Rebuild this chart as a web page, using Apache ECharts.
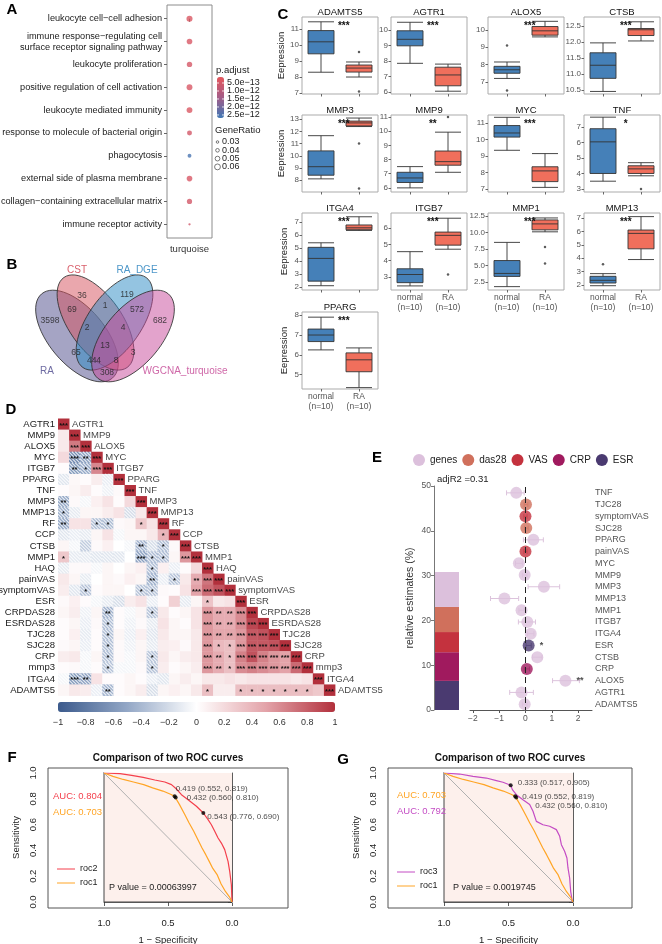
<!DOCTYPE html>
<html>
<head>
<meta charset="utf-8">
<title>RA multi-panel figure</title>
<script src="https://cdn.jsdelivr.net/npm/echarts@6/dist/echarts.min.js"></script>
<style>
  html, body { margin: 0; padding: 0; background: #fff; }
  #chart { width: 662px; height: 944px; }
</style>
</head>
<body>
<div id="chart"></div>
<script>
// ---------- A: GO enrichment ----------
const goTerms = ['leukocyte cell\u2212cell adhesion', 'immune response\u2212regulating cell\nsurface receptor signaling pathway',
  'leukocyte proliferation', 'positive regulation of cell activation', 'leukocyte mediated immunity',
  'response to molecule of bacterial origin', 'phagocytosis', 'external side of plasma membrane',
  'collagen\u2212containing extracellular matrix', 'immune receptor activity'];
const goPadj = [3.5e-13, 4e-13, 4.5e-13, 4e-13, 3.5e-13, 5e-13, 2.55e-12, 4e-13, 5e-13, 5.5e-13];
const goRatio = [0.062, 0.058, 0.056, 0.060, 0.060, 0.052, 0.042, 0.058, 0.054, 0.028];
const padjTicks = [5e-13, 1e-12, 1.5e-12, 2e-12, 2.5e-12];
const padjTickLabels = ['5.0e\u221213', '1.0e\u221212', '1.5e\u221212', '2.0e\u221212', '2.5e\u221212'];
const ratioTicks = [0.03, 0.04, 0.05, 0.06];

// ---------- B: Venn ----------
const vennSets = ['RA', 'CST', 'RA_DGE', 'WGCNA_turquoise'];
const vennCounts = [3598, 36, 119, 682, 69, 1, 572, 2, 4, 13, 65, 444, 8, 3, 308];

// ---------- C: boxplots ----------
const boxGenes = ['ADAMTS5', 'AGTR1', 'ALOX5', 'CTSB', 'MMP3', 'MMP9', 'MYC', 'TNF', 'ITGA4', 'ITGB7', 'MMP1', 'MMP13', 'PPARG'];
const groups = ['normal', 'RA'];
const normalStats = [
  [8.3, 9.45, 10.2, 10.9, 11.45], [7.85, 8.98, 9.4, 9.95, 10.5], [7.2, 7.5, 7.7, 7.9, 8.15],
  [10.45, 10.86, 11.27, 11.66, 11.97], [8.1, 8.4, 9.1, 10.4, 11.65], [6.0, 6.38, 6.7, 7.1, 7.5],
  [9.35, 10.15, 10.4, 10.85, 11.35], [3.5, 4.0, 6.05, 6.9, 7.65], [2.1, 2.45, 4.2, 5.05, 5.4],
  [2.45, 2.65, 3.15, 3.5, 4.55], [1.8, 3.35, 3.8, 5.75, 8.5], [1.95, 2.15, 2.35, 2.65, 2.85],
  [6.25, 6.67, 7.0, 7.3, 7.9]];
const raStats = [
  [8.0, 8.31, 8.56, 8.75, 8.94], [6.05, 6.4, 7.1, 7.6, 7.8], [9.6, 9.7, 9.95, 10.2, 10.5],
  [12.03, 12.2, 12.38, 12.42, 12.63], [12.4, 12.45, 12.7, 12.85, 13.1], [7.1, 7.6, 7.85, 8.6, 9.93],
  [7.1, 7.45, 8.1, 8.35, 9.15], [3.85, 4.0, 4.3, 4.5, 4.7], [6.35, 6.4, 6.55, 6.77, 7.4],
  [4.7, 4.95, 5.55, 5.75, 6.6], [10.1, 10.4, 11.3, 11.9, 12.2], [3.9, 4.7, 5.85, 6.1, 7.1],
  [4.35, 5.15, 5.75, 6.1, 6.35]];
const normalOutliers = [[], [], [9.1, 6.5], [], [], [], [], [], [], [], [], [3.55], []];
const raOutliers = [[9.56, 7.1], [], [], [], [11.0, 7.3], [11.0], [], [3.0], [], [3.15], [7.8, 5.3], [], []];
const boxSig = ['***', '***', '***', '***', '***', '**', '***', '*', '***', '***', '***', '***', '***'];
const boxYRange = [[6.94, 11.75], [5.87, 10.84], [6.3, 10.75], [10.37, 12.78], [7.02, 13.35], [5.71, 11.14],
  [6.82, 11.49], [2.8, 7.79], [1.77, 7.69], [2.2, 6.92], [1.29, 12.95], [1.63, 7.37], [4.28, 8.16]];
const boxYStep = [1, 1, 1, 0.5, 1, 1, 1, 1, 1, 1, 2.5, 1, 1];

// ---------- D: correlation matrix (lower triangle) ----------
const corrVars = ['AGTR1', 'MMP9', 'ALOX5', 'MYC', 'ITGB7', 'PPARG', 'TNF', 'MMP3', 'MMP13', 'RF', 'CCP', 'CTSB', 'MMP1',
  'HAQ', 'painVAS', 'symptomVAS', 'ESR', 'CRPDAS28', 'ESRDAS28', 'TJC28', 'SJC28', 'CRP', 'mmp3', 'ITGA4', 'ADAMTS5'];
const corrRows = [
  [1],
  [0.12, 1],
  [0.12, 0.68, 1],
  [0.2, -0.7, -0.55, 1],
  [0.02, -0.6, -0.5, 0.62, 1],
  [-0.15, 0.04, 0.02, 0.1, -0.1, 1],
  [0.02, 0.05, 0.1, 0.02, -0.08, 0.03, 1],
  [-0.5, 0.03, -0.05, 0.08, 0.15, 0.02, 0.2, 1],
  [-0.45, -0.12, 0.05, 0.05, 0.1, 0.15, -0.2, 0.12, 1],
  [-0.5, 0.15, 0.15, -0.38, -0.4, 0.03, 0.05, 0.3, 0.15, 1],
  [-0.15, -0.1, -0.12, 0.05, 0.15, -0.05, 0.05, 0.05, 0.12, 0.4, 1],
  [0.05, -0.05, -0.3, 0.03, 0.08, 0.0, -0.05, -0.45, -0.2, -0.38, 0.03, 1],
  [0.3, -0.12, -0.12, -0.15, -0.15, -0.15, 0.0, -0.55, -0.38, -0.38, 0.05, 0.55, 1],
  [-0.12, 0.03, 0.03, -0.05, 0.05, 0.0, 0.05, 0.08, -0.38, 0.08, -0.1, 0.02, 0.2, 1],
  [0.12, 0.05, -0.12, 0.0, 0.05, 0.03, 0.08, 0.05, -0.45, -0.1, -0.35, 0.12, 0.45, 0.7, 1],
  [0.1, -0.15, -0.35, 0.02, 0.05, 0.05, 0.0, -0.35, -0.35, 0.03, 0.02, 0.15, 0.5, 0.75, 0.85, 1],
  [0.03, 0.08, 0.02, -0.05, -0.12, -0.2, 0.1, 0.15, -0.1, 0.02, 0.25, -0.12, 0.05, 0.32, 0.12, 0.15, 1],
  [0.05, 0.1, -0.08, 0.05, -0.45, 0.02, -0.05, 0.05, -0.35, 0.12, 0.02, 0.05, 0.15, 0.55, 0.45, 0.45, 0.6, 1],
  [0.02, 0.05, -0.1, 0.03, -0.38, 0.02, -0.08, 0.03, -0.12, 0.15, 0.05, 0.02, 0.15, 0.55, 0.45, 0.45, 0.6, 0.9, 1],
  [0.02, 0.08, -0.12, 0.02, -0.38, 0.05, -0.1, 0.08, -0.15, 0.12, 0.05, 0.05, 0.12, 0.55, 0.48, 0.48, 0.55, 0.82, 0.85, 1],
  [0.03, 0.05, -0.1, 0.02, -0.38, 0.03, -0.08, 0.05, -0.12, 0.1, 0.08, 0.03, 0.12, 0.55, 0.38, 0.35, 0.55, 0.82, 0.82, 0.85, 1],
  [0.1, 0.12, -0.05, 0.05, -0.38, 0.03, -0.05, 0.05, -0.35, 0.12, 0.05, 0.1, 0.12, 0.55, 0.45, 0.35, 0.65, 0.85, 0.65, 0.55, 0.5, 1],
  [0.02, 0.03, -0.05, 0.02, -0.35, -0.05, -0.05, 0.03, -0.35, 0.1, 0.02, 0.05, 0.1, 0.55, 0.45, 0.35, 0.6, 0.65, 0.6, 0.55, 0.5, 0.75, 1],
  [-0.05, -0.6, -0.55, 0.15, 0.02, 0.02, 0.05, 0.02, -0.1, -0.15, 0.05, 0.1, 0.05, 0.12, 0.12, 0.15, 0.12, 0.15, 0.15, 0.15, 0.15, 0.12, 0.15, 1],
  [0.05, 0.12, 0.1, -0.1, -0.45, 0.02, 0.05, 0.1, -0.2, 0.05, 0.08, 0.05, 0.12, 0.35, 0.1, 0.1, 0.35, 0.35, 0.35, 0.35, 0.35, 0.35, 0.35, 0.3, 1]];
// [row, col, stars]
const corrSig = [
  [2, 1, '***'], [3, 1, '***'], [3, 2, '**'], [4, 1, '**'], [4, 2, '*'], [4, 3, '***'],
  [7, 0, '**'], [8, 0, '*'], [9, 0, '**'], [9, 3, '*'], [9, 4, '*'], [9, 7, '*'],
  [10, 9, '*'], [11, 7, '**'], [11, 9, '*'], [12, 0, '*'], [12, 7, '***'], [12, 8, '*'], [12, 9, '*'], [12, 11, '***'],
  [13, 8, '*'], [14, 8, '**'], [14, 10, '*'], [14, 12, '**'], [14, 13, '***'],
  [15, 2, '*'], [15, 7, '*'], [15, 8, '*'], [15, 12, '***'], [15, 13, '***'], [15, 14, '***'],
  [16, 13, '*'],
  [17, 4, '**'], [17, 8, '*'], [17, 13, '***'], [17, 14, '**'], [17, 15, '**'], [17, 16, '***'],
  [18, 4, '*'], [18, 13, '***'], [18, 14, '**'], [18, 15, '**'], [18, 16, '***'], [18, 17, '***'],
  [19, 4, '*'], [19, 13, '***'], [19, 14, '**'], [19, 15, '**'], [19, 16, '***'], [19, 17, '***'], [19, 18, '***'],
  [20, 4, '*'], [20, 13, '***'], [20, 14, '*'], [20, 15, '*'], [20, 16, '***'], [20, 17, '***'], [20, 18, '***'], [20, 19, '***'],
  [21, 4, '*'], [21, 8, '*'], [21, 13, '***'], [21, 14, '**'], [21, 15, '*'], [21, 16, '***'], [21, 17, '***'], [21, 18, '***'], [21, 19, '***'], [21, 20, '***'],
  [22, 4, '*'], [22, 8, '*'], [22, 13, '***'], [22, 14, '**'], [22, 15, '*'], [22, 16, '***'], [22, 17, '***'], [22, 18, '***'], [22, 19, '***'], [22, 20, '***'], [22, 21, '***'],
  [23, 1, '***'], [23, 2, '**'],
  [24, 4, '**'], [24, 13, '*'], [24, 16, '*'], [24, 17, '*'], [24, 18, '*'], [24, 19, '*'], [24, 20, '*'], [24, 21, '*'], [24, 22, '*']];
const corrTicks = [-1, -0.8, -0.6, -0.4, -0.2, 0, 0.2, 0.4, 0.6, 0.8, 1];

// ---------- E: relative estimates ----------
const estLegend = ['genes', 'das28', 'VAS', 'CRP', 'ESR'];
const estStackNames = ['ESR', 'CRP', 'VAS', 'das28', 'genes'];
const estShare = [6.5, 6.4, 4.5, 5.6, 7.8];
const adjR2 = 0.31;
const forestLabels = ['TNF', 'TJC28', 'symptomVAS', 'SJC28', 'PPARG', 'painVAS', 'MYC', 'MMP9', 'MMP3', 'MMP13',
  'MMP1', 'ITGB7', 'ITGA4', 'ESR', 'CTSB', 'CRP', 'ALOX5', 'AGTR1', 'ADAMTS5'];
const forestGroup = ['genes', 'das28', 'VAS', 'das28', 'genes', 'VAS', 'genes', 'genes', 'genes', 'genes',
  'genes', 'genes', 'genes', 'ESR', 'genes', 'CRP', 'genes', 'genes', 'genes'];
const forestEst = [-0.35, 0.02, 0.0, 0.03, 0.3, 0.0, -0.25, -0.03, 0.7, -0.8, -0.15, 0.07, 0.2, 0.12, 0.45, 0.05, 1.52, -0.15, -0.03];
const forestLo = [-0.72, -0.05, -0.06, -0.04, -0.08, -0.06, -0.38, -0.12, 0.1, -1.33, -0.25, -0.27, 0.08, 0.02, 0.27, -0.05, 1.03, -0.6, -0.12];
const forestHi = [-0.05, 0.09, 0.06, 0.1, 0.68, 0.06, -0.12, 0.06, 1.3, -0.26, -0.05, 0.38, 0.32, 0.22, 0.63, 0.15, 2.05, 0.3, 0.06];
const forestSig = ['', '', '', '', '', '', '', '', '', '', '', '', '', '*', '', '', '**', '', ''];

// ---------- F / G: ROC curves (x = 1 - specificity, drawn reversed) ----------
const roc1X = [1, 0.93, 0.85, 0.77, 0.69, 0.62, 0.54, 0.48, 0.448, 0.44, 0.41, 0.37, 0.335, 0.30, 0.27, 0.235, 0.205, 0.178, 0.15, 0.115, 0.085, 0.05, 0.02, 0];
const roc1Y = [1, 0.974, 0.95, 0.93, 0.91, 0.885, 0.86, 0.835, 0.819, 0.81, 0.755, 0.68, 0.612, 0.55, 0.49, 0.42, 0.367, 0.315, 0.26, 0.21, 0.14, 0.08, 0.04, 0];
const roc2X = [1, 0.875, 0.784, 0.694, 0.603, 0.525, 0.473, 0.434, 0.395, 0.343, 0.278, 0.224, 0.187, 0.161, 0.135, 0.109, 0.083, 0.057, 0.031, 0.018, 0.005, 0];
const roc2Y = [1, 0.995, 0.982, 0.966, 0.946, 0.930, 0.910, 0.876, 0.832, 0.793, 0.742, 0.690, 0.638, 0.599, 0.548, 0.496, 0.457, 0.406, 0.315, 0.238, 0.134, 0];
const roc3X = [1, 0.879, 0.775, 0.672, 0.594, 0.543, 0.483, 0.470, 0.439, 0.388, 0.336, 0.310, 0.284, 0.233, 0.181, 0.129, 0.103, 0.090, 0.065, 0.047, 0.039, 0.026, 0.018, 0.005];
const roc3Y = [1, 0.992, 0.974, 0.961, 0.941, 0.928, 0.905, 0.871, 0.832, 0.793, 0.755, 0.703, 0.625, 0.599, 0.587, 0.561, 0.509, 0.444, 0.393, 0.341, 0.264, 0.186, 0.083, 0];
const thrF = [{t: 0.419, sp: 0.552, se: 0.819}, {t: 0.432, sp: 0.560, se: 0.810}, {t: 0.543, sp: 0.776, se: 0.690}];
const thrG = [{t: 0.333, sp: 0.517, se: 0.905}, {t: 0.419, sp: 0.552, se: 0.819}, {t: 0.432, sp: 0.560, se: 0.810}];
const aucF = [['AUC: 0.804', 'roc2'], ['AUC: 0.703', 'roc1']];
const aucG = [['AUC: 0.703', 'roc1'], ['AUC: 0.792', 'roc3']];

// ================= drawing =================
const chart = echarts.init(document.getElementById('chart'));
const FONT = '"Liberation Sans", Arial, Helvetica, sans-serif';
const grids = [], xAxes = [], yAxes = [], series = [], graphics = [], visualMaps = [];

function addGrid(g, xa, ya) {
  g.outerBoundsMode = 'none';
  grids.push(g);
  const gi = grids.length - 1;
  xa.gridIndex = gi; ya.gridIndex = gi;
  xAxes.push(xa); yAxes.push(ya);
  return { xi: xAxes.length - 1, yi: yAxes.length - 1 };
}
function font(size, weight) { return (weight || 'normal') + ' ' + size + 'px ' + FONT; }
function txt(x, y, text, o) {
  o = o || {};
  graphics.push({ type: 'text', x: x, y: y, rotation: o.rot || 0, silent: true, z: 50,
    style: { text: text, fill: o.color || '#222', font: font(o.size || 9, o.weight),
      align: o.align || 'left', textAlign: o.align || 'left', verticalAlign: 'middle', textVerticalAlign: 'middle' } });
}
function gline(x1, y1, x2, y2, color, w) {
  graphics.push({ type: 'line', silent: true, z: 50, shape: { x1, y1, x2, y2 }, style: { stroke: color, lineWidth: w || 1 } });
}

// panel letters
[['A', 12, 10], ['B', 12, 265], ['C', 283, 15], ['D', 11, 410], ['E', 377, 458], ['F', 12, 758], ['G', 343, 760]]
  .forEach(p => txt(p[1], p[2], p[0], { size: 15, weight: 'bold', align: 'center', color: '#000' }));

// ---- A ----
const padjMin = 1.25e-13, padjMax = 2.69e-12;
const ratioSize = r => 2 + (r - 0.025) * 110;
const termIdx = goTerms.map((_, i) => i);
const axA = addGrid({ left: 167, top: 5, width: 45, height: 233, show: true, borderColor: '#8c8c8c', borderWidth: 1 },
  { type: 'value', min: 0.4, max: 1.6, axisLine: { show: false }, splitLine: { show: false },
    axisTick: { show: true, customValues: [1], length: 3, lineStyle: { color: '#666' } },
    axisLabel: { customValues: [1], formatter: () => 'turquoise', fontSize: 9.5, color: '#333', margin: 6 } },
  { type: 'value', min: -0.6, max: 9.6, inverse: true, axisLine: { show: false }, splitLine: { show: false },
    axisTick: { show: true, customValues: termIdx, length: 3, lineStyle: { color: '#666' } },
    axisLabel: { customValues: termIdx, formatter: v => goTerms[Math.round(v)], fontSize: 9.2, color: '#1a1a1a', margin: 5, lineHeight: 11, align: 'right' } });
const sA = series.length;
series.push({ type: 'scatter', xAxisIndex: axA.xi, yAxisIndex: axA.yi, silent: true,
  data: goTerms.map((t, i) => [1, i, goPadj[i], goRatio[i]]), symbolSize: d => ratioSize(d[3]) });
visualMaps.push({ type: 'continuous', seriesIndex: sA, dimension: 2, min: padjMin, max: padjMax, inverse: true,
  left: 217, top: 77, itemWidth: 7, itemHeight: 41, calculable: false, padding: 0,
  inRange: { color: ['#e6565b', '#a35d88', '#3f78b6'] } });
txt(216, 70, 'p.adjust', { size: 9.5 });
padjTicks.forEach((v, i) => {
  const y = 77 + (v - padjMin) / (padjMax - padjMin) * 41;
  txt(227, y, padjTickLabels[i], { size: 9 });
  gline(217, y, 219, y, '#fff', 0.8);
  gline(222, y, 224, y, '#fff', 0.8);
});
txt(215, 130, 'GeneRatio', { size: 9.5 });
ratioTicks.forEach((v, i) => {
  const y = 142 + i * 8.3;
  graphics.push({ type: 'circle', silent: true, z: 50, shape: { cx: 217.5, cy: y, r: ratioSize(v) / 2 }, style: { fill: '#fff', stroke: '#555', lineWidth: 0.8 } });
  txt(222, y, v.toFixed(2), { size: 9 });
});

// ---- B ----
const vennEllipses = [
  { cx: 77, cy: 336, rx: 55, ry: 28, rot: -50, color: 'rgba(75,74,138,0.5)' },
  { cx: 95.5, cy: 322.5, rx: 55, ry: 26.7, rot: -55, color: 'rgba(214,80,92,0.5)' },
  { cx: 114.5, cy: 322.5, rx: 55, ry: 26.7, rot: 55, color: 'rgba(42,138,196,0.5)' },
  { cx: 133, cy: 336, rx: 55, ry: 28, rot: 50, color: 'rgba(200,71,154,0.5)' }];
vennEllipses.forEach(e => graphics.push({ type: 'ellipse', silent: true, z: 0, x: e.cx, y: e.cy, rotation: e.rot * Math.PI / 180,
  shape: { cx: 0, cy: 0, rx: e.rx, ry: e.ry }, style: { fill: e.color, stroke: '#333', lineWidth: 0.8 } }));
const vennLabelPos = [[47, 371, '#6f6ca3'], [77, 270, '#d9606c'], [137, 270, '#4d97c9'], [185, 371, '#cf68a8']];
vennSets.forEach((s, i) => txt(vennLabelPos[i][0], vennLabelPos[i][1], s, { size: 10, align: 'center', color: vennLabelPos[i][2] }));
const vennCountPos = [[50, 321], [82, 296], [127, 295], [160, 321], [72, 310], [105, 306], [137, 310], [87, 328], [123, 328],
  [105, 346], [76, 353], [94, 361], [116, 361], [133, 353], [107, 373]];
const axB = addGrid({ left: 0, top: 258, width: 330, height: 140, show: false },
  { type: 'value', min: 0, max: 330, show: false }, { type: 'value', min: 258, max: 398, inverse: true, show: false });
series.push({ type: 'scatter', xAxisIndex: axB.xi, yAxisIndex: axB.yi, silent: true, symbolSize: 1, itemStyle: { color: 'rgba(0,0,0,0)' },
  data: vennCounts.map((n, i) => [vennCountPos[i][0], vennCountPos[i][1], n]),
  label: { show: true, position: 'inside', formatter: p => String(p.data[2]), fontSize: 8.5, color: '#222' } });

// ---- C ----
const NORMAL = '#4580b8', RA = '#f06f5c';
const colLeft = [302, 391, 488, 584], rowTop = [17, 115, 213, 312];
boxGenes.forEach((g, k) => {
  const r = Math.floor(k / 4), c = k % 4;
  const showX = k >= 9;
  const lo = boxYRange[k][0], hi = boxYRange[k][1], step = boxYStep[k];
  const ticks = [];
  for (let t = Math.ceil(lo / step - 1e-9) * step; t <= hi + 1e-9; t += step) ticks.push(+t.toFixed(2));
  const ax = addGrid({ left: colLeft[c], top: rowTop[r], width: 76, height: 77, show: true, borderColor: '#ababab', borderWidth: 1 },
    { type: 'category', data: groups, axisLine: { show: false },
      axisTick: { show: true, alignWithLabel: true, length: 2.5, lineStyle: { color: '#666' } },
      axisLabel: { show: showX, formatter: v => v + '\n(n=10)', fontSize: 8.5, color: '#555', lineHeight: 10, margin: 3 } },
    { type: 'value', min: lo, max: hi, axisLine: { show: false }, splitLine: { show: false },
      axisTick: { show: true, customValues: ticks, length: 2.5, lineStyle: { color: '#666' } },
      axisLabel: { customValues: ticks, fontSize: 8, color: '#555', margin: 3, formatter: v => (step % 1 !== 0 ? v.toFixed(1) : String(v)) },
      name: c === 0 ? 'Eepression' : '', nameLocation: 'middle', nameGap: 13, nameTextStyle: { fontSize: 9.5, color: '#222' } });
  series.push({ type: 'boxplot', xAxisIndex: ax.xi, yAxisIndex: ax.yi, silent: true, boxWidth: [26, 26],
    itemStyle: { borderColor: '#333', borderWidth: 0.9 },
    data: [{ value: normalStats[k], itemStyle: { color: NORMAL } }, { value: raStats[k], itemStyle: { color: RA } }] });
  const pts = normalOutliers[k].map(v => [0, v]).concat(raOutliers[k].map(v => [1, v]));
  series.push({ type: 'scatter', xAxisIndex: ax.xi, yAxisIndex: ax.yi, silent: true, symbolSize: 2.5, itemStyle: { color: '#333' }, data: pts });
  txt(colLeft[c] + 38, rowTop[r] - 5, g, { size: 9.5, align: 'center', color: '#111' });
  txt(colLeft[c] + 0.55 * 76, rowTop[r] + 9, boxSig[k], { size: 10, align: 'center', weight: 'bold', color: '#111' });
});

// ---- D ----
const corrData = [];
corrRows.forEach((row, i) => row.forEach((v, j) => corrData.push([j, i, v])));
const sigMap = {};
corrSig.forEach(s => { sigMap[s[0] + '_' + s[1]] = s[2]; });
corrVars.forEach((_, i) => { sigMap[i + '_' + i] = '***'; });
const axD = addGrid({ left: 58, top: 418.5, width: 277, height: 277, show: false },
  { type: 'category', data: corrVars, show: false },
  { type: 'category', data: corrVars, inverse: true, axisLine: { show: false }, axisTick: { show: false },
    axisLabel: { interval: 0, fontSize: 9.5, color: '#1a1a1a', margin: 3 } });
const sD = series.length;
series.push({ type: 'custom', xAxisIndex: axD.xi, yAxisIndex: axD.yi, silent: true, data: corrData, encode: { x: 0, y: 1 },
  renderItem: (params, api) => {
    const j = api.value(0), i = api.value(1), v = api.value(2);
    const c = api.coord([j, i]);
    const s = api.size([1, 1]);
    const w = s[0], h = s[1], x0 = c[0] - w / 2, y0 = c[1] - h / 2;
    const kids = [{ type: 'rect', shape: { x: x0, y: y0, width: w + 0.4, height: h + 0.4 }, style: { fill: api.visual('color') } }];
    if (v < 0) {
      for (let k = -w + 1.6; k < h; k += 3.3) {
        const xs = Math.max(0, -k), xe = Math.min(w, h - k);
        if (xe > xs) kids.push({ type: 'line', shape: { x1: x0 + xs, y1: y0 + xs + k, x2: x0 + xe, y2: y0 + xe + k },
          style: { stroke: 'rgba(255,255,255,0.8)', lineWidth: 1.1 } });
      }
    }
    const st = sigMap[i + '_' + j];
    if (st) kids.push({ type: 'text', style: { text: st, x: c[0], y: c[1] + 1.5, align: 'center', textAlign: 'center',
      verticalAlign: 'middle', textVerticalAlign: 'middle', font: font(7.5, 'bold'), fill: '#111' } });
    return { type: 'group', children: kids };
  } });
visualMaps.push({ type: 'continuous', seriesIndex: sD, dimension: 2, min: -1, max: 1, orient: 'horizontal',
  left: 58, top: 702, itemWidth: 10, itemHeight: 277, calculable: false, padding: 0,
  inRange: { color: ['#3b5a8c', '#93a7c6', '#ffffff', '#e3a3a9', '#b2303c'] } });
series.push({ type: 'scatter', xAxisIndex: axD.xi, yAxisIndex: axD.yi, silent: true, symbolSize: 1, itemStyle: { color: 'rgba(0,0,0,0)' },
  data: corrVars.map((_, i) => [i, i]),
  label: { show: true, position: 'right', distance: 8, formatter: p => corrVars[p.dataIndex], fontSize: 9.5, color: '#111' } });
corrTicks.forEach(v => {
  const lab = v === 0 ? '0' : (v < 0 ? '\u2212' : '') + String(Math.abs(v));
  txt(58 + (v + 1) / 2 * 277, 723, lab, { size: 9, align: 'center', color: '#333' });
});

// ---- E ----
const estColors = { genes: '#dcc0dc', das28: '#d0705c', VAS: '#c4323e', CRP: '#a01a5e', ESR: '#4a3a70' };
const errColors = { genes: '#dcc3dc', das28: '#e0a090', VAS: '#d98088', CRP: '#c97aa0', ESR: '#8c80a8' };
const axEB = addGrid({ left: 434, top: 486, width: 26, height: 224, show: false },
  { type: 'category', data: ['all'], show: false },
  { type: 'value', min: 0, max: 50, interval: 10, splitLine: { show: false },
    axisLine: { show: true, lineStyle: { color: '#777' } }, axisTick: { show: true, length: 3, lineStyle: { color: '#777' } },
    axisLabel: { fontSize: 8.5, color: '#555', margin: 3 },
    name: 'relative estimates (%)', nameLocation: 'middle', nameGap: 18, nameTextStyle: { fontSize: 10.5, color: '#333' } });
estStackNames.forEach((n, i) => series.push({ type: 'bar', name: n, stack: 'est', xAxisIndex: axEB.xi, yAxisIndex: axEB.yi,
  silent: true, barWidth: 24, data: [estShare[i]], itemStyle: { color: estColors[n] } }));
txt(437, 479, 'adjR2 =' + adjR2.toFixed(2), { size: 9.5 });

const fTicks = [-2, -1, 0, 1, 2];
const axEF = addGrid({ left: 470, top: 487, width: 122, height: 223, show: false },
  { type: 'value', min: -2.11, max: 2.53, splitLine: { show: false },
    axisLine: { show: true, lineStyle: { color: '#555' } },
    axisTick: { show: true, customValues: fTicks, length: 3, lineStyle: { color: '#555' } },
    axisLabel: { customValues: fTicks, formatter: v => (v < 0 ? '\u2212' + (-v) : String(v)), fontSize: 8.5, color: '#555', margin: 4 } },
  { type: 'category', data: forestLabels, inverse: true, position: 'right', axisLine: { show: false }, axisTick: { show: false },
    axisLabel: { interval: 0, fontSize: 9, color: '#555', margin: 3 } });
series.push({ type: 'custom', xAxisIndex: axEF.xi, yAxisIndex: axEF.yi, silent: true, z: 2,
  data: forestLabels.map((_, i) => [forestLo[i], forestHi[i], i]), encode: { x: [0, 1], y: 2 },
  renderItem: (params, api) => {
    const a = api.coord([api.value(0), api.value(2)]), b = api.coord([api.value(1), api.value(2)]);
    const col = errColors[forestGroup[params.dataIndex]];
    const st = () => ({ stroke: col, lineWidth: 1 });
    return { type: 'group', children: [
      { type: 'line', shape: { x1: a[0], y1: a[1], x2: b[0], y2: b[1] }, style: st() },
      { type: 'line', shape: { x1: a[0], y1: a[1] - 2.5, x2: a[0], y2: a[1] + 2.5 }, style: st() },
      { type: 'line', shape: { x1: b[0], y1: b[1] - 2.5, x2: b[0], y2: b[1] + 2.5 }, style: st() }] };
  } });
estLegend.forEach(g => series.push({ type: 'scatter', name: g, xAxisIndex: axEF.xi, yAxisIndex: axEF.yi, silent: true, z: 3,
  symbolSize: 12, itemStyle: { color: estColors[g] },
  data: forestLabels.map((_, i) => i).filter(i => forestGroup[i] === g).map(i => [forestEst[i], i]),
  label: { show: true, position: 'right', distance: 5, formatter: p => forestSig[p.data[1]], fontSize: 9, fontWeight: 'bold', color: '#222' } }));
series.push({ type: 'scatter', xAxisIndex: axEF.xi, yAxisIndex: axEF.yi, silent: true, z: 6, symbolSize: 0, data: [],
  markLine: { silent: true, symbol: 'none', label: { show: false }, lineStyle: { type: [6, 4], color: '#222', width: 1 }, data: [{ xAxis: 0 }] } });

// ---- F & G ----
const rocColors = { roc1: '#ffa526', roc2: '#f43f4c', roc3: '#c44cc4' };
function rocPanel(o) {
  addGrid({ left: o.boxLeft, top: 768, width: o.boxWidth, height: 140, show: true, borderColor: '#555', borderWidth: 1 },
    { type: 'value', show: false, min: 0, max: 1 }, { type: 'value', show: false, min: 0, max: 1 });
  const ax = addGrid({ left: o.dataLeft, top: 773, width: o.dataWidth, height: 129, show: false },
    { type: 'value', min: 0, max: 1, interval: 0.5, inverse: true, offset: 11, splitLine: { show: false },
      name: '1 \u2212 Specificity', nameLocation: 'middle', nameGap: 22, nameTextStyle: { fontSize: 9.5, color: '#222' },
      axisLine: { show: true, lineStyle: { color: '#333', width: 0.8 } }, axisTick: { show: true, length: 4, lineStyle: { color: '#333', width: 0.8 } },
      axisLabel: { formatter: v => v.toFixed(1), fontSize: 9.5, color: '#222', margin: 5 } },
    { type: 'value', min: 0, max: 1, interval: 0.2, offset: 61, splitLine: { show: false },
      name: 'Sensitivity', nameLocation: 'middle', nameGap: 22, nameRotate: 90, nameTextStyle: { fontSize: 9.5, color: '#222' },
      axisLine: { show: true, lineStyle: { color: '#333', width: 0.8 } }, axisTick: { show: true, length: 4, lineStyle: { color: '#333', width: 0.8 } },
      axisLabel: { rotate: 90, formatter: v => v.toFixed(1), fontSize: 9.5, color: '#222', margin: 5 } });
  const base = { xAxisIndex: ax.xi, yAxisIndex: ax.yi, silent: true };
  series.push(Object.assign({ type: 'line', symbol: 'none', z: 2, data: [[1, 1], [1, 0], [0, 0]], lineStyle: { color: '#444', width: 1 },
    markArea: { silent: true, itemStyle: { color: '#fdf0ec' }, data: [[{ coord: [1, 0] }, { coord: [0, 1] }]] } }, base));
  series.push(Object.assign({ type: 'line', symbol: 'none', clip: false, z: 2, data: [[1.04, 1.04], [-0.04, -0.04]], lineStyle: { color: '#b0b0b0', width: 1 } }, base));
  o.curves.forEach(cv => series.push(Object.assign({ type: 'line', symbol: 'none', z: 3,
    data: cv.x.map((x, i) => [x, cv.y[i]]), lineStyle: { color: rocColors[cv.name], width: 1.2 } }, base)));
  series.push(Object.assign({ type: 'scatter', symbolSize: 4, z: 4, itemStyle: { color: '#000' },
    data: o.thr.map((t, i) => ({ value: [1 - t.sp, t.se], label: { position: [o.off[i][0] + 2, o.off[i][1] + 2] } })),
    label: { show: true, align: 'left', verticalAlign: 'middle', fontSize: 8, color: '#222',
      formatter: p => { const t = o.thr[p.dataIndex]; return t.t.toFixed(3) + ' (' + t.sp.toFixed(3) + ', ' + t.se.toFixed(3) + ')'; } } }, base));
  o.auc.forEach((a, i) => txt(o.aucX, o.aucY + i * 16, a[0], { size: 9.5, color: rocColors[a[1]] }));
  o.legend.forEach((n, i) => {
    const y = o.legY + i * 14;
    gline(o.legX, y, o.legX + 18, y, rocColors[n], 1);
    txt(o.legX + 23, y, n, { size: 9 });
  });
  txt(o.pX, 888, o.pText, { size: 9 });
  txt(o.boxLeft + o.boxWidth / 2, 758, 'Comparison of two ROC curves', { size: 10, weight: 'bold', align: 'center', color: '#111' });
}
rocPanel({ boxLeft: 48, boxWidth: 240, dataLeft: 104, dataWidth: 128,
  curves: [{ name: 'roc2', x: roc2X, y: roc2Y }, { name: 'roc1', x: roc1X, y: roc1Y }],
  thr: thrF, off: [[1, -8], [11, 0], [4, 4]], auc: aucF, aucX: 53, aucY: 796,
  legend: ['roc2', 'roc1'], legX: 57, legY: 869, pX: 109, pText: 'P value = 0.00063997' });
rocPanel({ boxLeft: 388, boxWidth: 244, dataLeft: 444, dataWidth: 129,
  curves: [{ name: 'roc3', x: roc3X, y: roc3Y }, { name: 'roc1', x: roc1X, y: roc1Y }],
  thr: thrG, off: [[7, -2], [7, 0], [19, 8]], auc: aucG, aucX: 397, aucY: 795,
  legend: ['roc3', 'roc1'], legX: 397, legY: 872, pX: 453, pText: 'P value = 0.0019745' });

chart.setOption({
  animation: false,
  backgroundColor: '#fff',
  textStyle: { fontFamily: FONT },
  grid: grids, xAxis: xAxes, yAxis: yAxes, visualMap: visualMaps,
  legend: [{ data: estLegend, left: 413, top: 454, icon: 'circle', itemWidth: 12, itemHeight: 12, itemGap: 5, padding: 0,
    selectedMode: false, textStyle: { fontSize: 10, color: '#222' } }],
  series: series,
  graphic: { elements: graphics }
});
</script>
</body>
</html>
